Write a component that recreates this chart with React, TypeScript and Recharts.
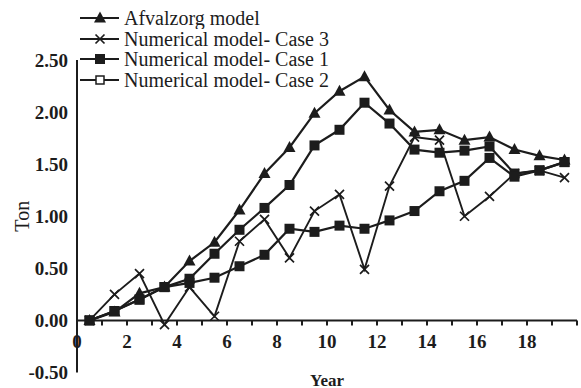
import React from 'react'
import { ComposedChart, Line, XAxis, YAxis, ReferenceLine, Legend } from 'recharts'

document.body.style.margin = '0'

// measurements taken every half year
const years = [0.5, 1.5, 2.5, 3.5, 4.5, 5.5, 6.5, 7.5, 8.5, 9.5, 10.5, 11.5, 12.5, 13.5, 14.5, 15.5, 16.5, 17.5, 18.5, 19.5]
const afvalzorg = [0, 0.08, 0.26, 0.32, 0.57, 0.75, 1.06, 1.41, 1.66, 1.99, 2.2, 2.34, 2.02, 1.81, 1.83, 1.73, 1.76, 1.64, 1.58, 1.54]
const case3 = [0, 0.25, 0.45, -0.04, 0.32, 0.04, 0.76, 0.97, 0.6, 1.05, 1.21, 0.49, 1.29, 1.76, 1.73, 1.0, 1.19, 1.41, 1.44, 1.37]
const case1 = [0, 0.09, 0.2, 0.32, 0.4, 0.64, 0.87, 1.08, 1.3, 1.68, 1.83, 2.09, 1.89, 1.64, 1.61, 1.63, 1.67, 1.41, 1.44, 1.52]
const case2 = [0, 0.09, 0.2, 0.32, 0.36, 0.41, 0.52, 0.63, 0.88, 0.85, 0.91, 0.88, 0.96, 1.05, 1.24, 1.34, 1.56, 1.38, 1.44, 1.52]

const xTicks = [0, 1, 2, 3, 4, 5, 6, 7, 8, 9, 10, 11, 12, 13, 14, 15, 16, 17, 18, 19, 20]
const yTicks = [-0.5, 0, 0.5, 1, 1.5, 2, 2.5]

const legendItems = [
  { name: 'Afvalzorg model', marker: 'triangle' },
  { name: 'Numerical model- Case 3', marker: 'cross' },
  { name: 'Numerical model- Case 1', marker: 'square' },
  { name: 'Numerical model- Case 2', marker: 'hollow' },
]

const data = years.map((year, i) => ({
  year,
  afvalzorg: afvalzorg[i],
  case3: case3[i],
  case1: case1[i],
  case2: case2[i],
}))

const W = 581
const H = 388
const MARGIN = { top: 60, right: 4, bottom: 0, left: 0 }
const Y_AXIS_W = 77
const X_AXIS_H = 15.5
const Y_MIN = -0.5
const Y_MAX = 2.5
const PLOT_H = H - MARGIN.top - MARGIN.bottom - X_AXIS_H
// the x axis crosses at y = 0, not at the bottom of the plot
const ZERO_Y = MARGIN.top + (PLOT_H * Y_MAX) / (Y_MAX - Y_MIN)

const INK = '#1c1c1c'
const SERIF = '"Liberation Serif", "Times New Roman", serif'

function Marker({ kind, cx, cy }: { kind: string; cx: number; cy: number }) {
  if (kind === 'triangle') {
    return <path d={`M${cx},${cy - 6.5}L${cx + 6},${cy + 4.5}L${cx - 6},${cy + 4.5}Z`} fill={INK} />
  }
  if (kind === 'square') {
    return <rect x={cx - 5} y={cy - 5} width={10} height={10} fill={INK} />
  }
  if (kind === 'hollow') {
    return <rect x={cx - 4} y={cy - 4} width={8} height={8} fill="#fff" stroke={INK} strokeWidth={1.5} />
  }
  return (
    <path
      d={`M${cx - 4.5},${cy - 4.5}L${cx + 4.5},${cy + 4.5}M${cx + 4.5},${cy - 4.5}L${cx - 4.5},${cy + 4.5}`}
      stroke={INK}
      strokeWidth={1.7}
      fill="none"
    />
  )
}

const dotOf = (kind: string) => (p: any) => (
  <Marker key={`${kind}-${p.index}`} kind={kind} cx={p.cx} cy={p.cy} />
)

function YearTick({ x, payload }: any) {
  const v = payload.value
  return (
    <g>
      <line x1={x} x2={x} y1={ZERO_Y} y2={ZERO_Y + 5} stroke={INK} strokeWidth={2} />
      {v % 2 === 0 && v < 20 && (
        <text x={x} y={ZERO_Y + 28} textAnchor="middle" fontFamily={SERIF} fontWeight="bold" fontSize={19} fill={INK}>
          {v}
        </text>
      )}
    </g>
  )
}

function LegendBox() {
  return (
    <div style={{ fontFamily: SERIF, fontSize: 20, color: INK }}>
      {legendItems.map((item) => (
        <svg key={item.name} width={300} height={20.5} style={{ display: 'block' }}>
          <line x1={0} x2={39} y1={10} y2={10} stroke={INK} strokeWidth={2} />
          <Marker kind={item.marker} cx={20} cy={10} />
          <text x={44} y={16.5} fontFamily={SERIF} fontSize={20} fill={INK}>
            {item.name}
          </text>
        </svg>
      ))}
    </div>
  )
}

export default function App() {
  return (
    <div style={{ width: W, height: H, background: '#fff' }}>
      <ComposedChart width={W} height={H} data={data} margin={MARGIN}>
        <XAxis
          type="number"
          dataKey="year"
          domain={[0, 20]}
          ticks={xTicks}
          interval={0}
          height={X_AXIS_H}
          axisLine={false}
          tickLine={false}
          tick={<YearTick />}
          label={{
            content: ({ viewBox }: any) => (
              <text
                x={viewBox.x + viewBox.width / 2}
                y={viewBox.y + 13}
                textAnchor="middle"
                fontFamily={SERIF}
                fontWeight="bold"
                fontSize={17}
                fill={INK}
              >
                Year
              </text>
            ),
          }}
        />
        <YAxis
          type="number"
          domain={[Y_MIN, Y_MAX]}
          ticks={yTicks}
          width={Y_AXIS_W}
          tickFormatter={(v: number) => v.toFixed(2)}
          axisLine={{ stroke: INK, strokeWidth: 2 }}
          tickLine={false}
          tickSize={0}
          tickMargin={9}
          tick={{ fill: INK, fontFamily: SERIF, fontWeight: 'bold', fontSize: 19 }}
          label={{
            content: ({ viewBox }: any) => (
              <text
                transform={`translate(${viewBox.x + 22},${viewBox.y + viewBox.height / 2}) rotate(-90)`}
                textAnchor="middle"
                dominantBaseline="central"
                fontFamily={SERIF}
                fontSize={20}
                fill={INK}
              >
                Ton
              </text>
            ),
          }}
        />
        <ReferenceLine y={0} stroke={INK} strokeWidth={2} />
        <Legend
          layout="vertical"
          align="center"
          verticalAlign="middle"
          content={<LegendBox />}
          wrapperStyle={{ top: 8, left: 80, width: 320, height: 85 }}
        />
        <Line dataKey="afvalzorg" name="Afvalzorg model" stroke={INK} strokeWidth={2.2} dot={dotOf('triangle')} isAnimationActive={false} />
        <Line dataKey="case3" name="Numerical model- Case 3" stroke={INK} strokeWidth={1.9} dot={dotOf('cross')} isAnimationActive={false} />
        <Line dataKey="case1" name="Numerical model- Case 1" stroke={INK} strokeWidth={2.2} dot={dotOf('square')} isAnimationActive={false} />
        <Line dataKey="case2" name="Numerical model- Case 2" stroke={INK} strokeWidth={2.2} dot={dotOf('square')} isAnimationActive={false} />
      </ComposedChart>
    </div>
  )
}
